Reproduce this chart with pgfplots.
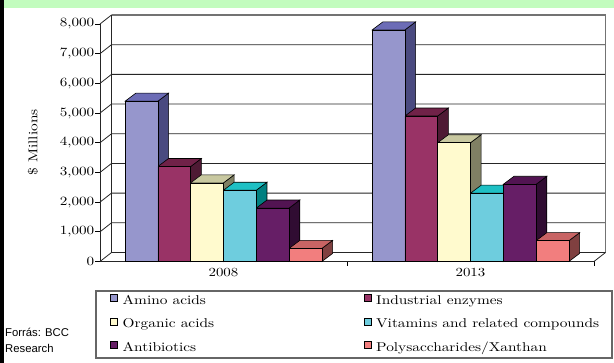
\documentclass[border=0pt]{standalone}
\usepackage{fontspec}
\setmainfont{lmroman10-regular.otf}[FakeStretch=1.2]
\newfontfamily\notefont{Liberation Sans}
\usepackage{pgfplots}
\usepackage{pgfplotstable}
\pgfplotsset{compat=1.18}

% front, top and side shades of each series
\definecolor{aminoF}{RGB}{150,150,204}
\definecolor{aminoT}{RGB}{108,108,182}
\definecolor{aminoS}{RGB}{74,74,128}
\definecolor{enzymesF}{RGB}{153,51,102}
\definecolor{enzymesT}{RGB}{112,34,72}
\definecolor{enzymesS}{RGB}{78,26,52}
\definecolor{organicF}{RGB}{255,250,206}
\definecolor{organicT}{RGB}{200,200,160}
\definecolor{organicS}{RGB}{128,128,100}
\definecolor{vitaminsF}{RGB}{110,205,222}
\definecolor{vitaminsT}{RGB}{30,192,196}
\definecolor{vitaminsS}{RGB}{0,128,128}
\definecolor{antibioticsF}{RGB}{102,30,102}
\definecolor{antibioticsT}{RGB}{82,20,82}
\definecolor{antibioticsS}{RGB}{48,12,50}
\definecolor{polysacchF}{RGB}{242,126,126}
\definecolor{polysacchT}{RGB}{200,100,100}
\definecolor{polysacchS}{RGB}{128,64,64}
\definecolor{bandgreen}{RGB}{194,252,190}

% market size, $ millions
\pgfplotstableread{
x    amino enzymes organic vitamins antibiotics polysacch
0.5  5400  3200    2650    2400     1800        440
1.5  7800  4900    4000    2300     2600        700
}\markets

\def\bw{0.1328}   % bar width (axis units)
\def\dxb{0.0433}  % bar depth, x
\def\dyb{270}     % bar depth, y
\def\dxw{0.0466}  % wall depth, x
\def\dyw{303}     % wall depth, y
\def\xback{2.0466}

\begin{document}
\begin{tikzpicture}
\useasboundingbox (0pt,0pt) rectangle (614pt,363pt);
\fill[white] (0pt,0pt) rectangle (614pt,363pt);
\fill[bandgreen] (0pt,355pt) rectangle (614pt,363pt);
\fill[black] (0pt,0pt) rectangle (3.5pt,363pt);

\begin{axis}[
  at={(100pt,101.5pt)}, anchor=south west,
  scale only axis, width=505.5pt, height=246.5pt,
  xmin=0, xmax=2.0466, ymin=0, ymax=8303,
  clip=false,
  axis x line*=bottom, axis y line*=left,
  axis line style={draw=none},
  tick align=outside, major tick length=4.5pt,
  ytick={0,1000,...,8000},
  ytick style={black, line width=0.7pt},
  scaled y ticks=false,
  /pgf/number format/1000 sep={,},
  /pgf/number format/assume math mode=true,
  yticklabel style={font=\fontsize{12.6}{14}\selectfont, inner xsep=1pt},
  xtick={0.5,1.5}, xticklabels={2008,2013},
  xtick style={draw=none},
  xticklabel style={font=\fontsize{12.4}{14}\selectfont, yshift=1pt},
  extra x ticks={1,2}, extra x tick labels={},
  extra x tick style={xtick style={draw=black, line width=0.7pt}},
  faceline/.style={draw=black, line width=0.6pt},
  wallline/.style={draw=black!85, line width=0.8pt},
  legend columns=2, legend cell align=left,
  legend image code/.code={\draw[#1, draw=black, line width=0.5pt] (0pt,0pt) rectangle (7pt,7pt);},
  legend style={
    at={(0.0198,-0.1302)}, anchor=north west, draw=none, fill=none, inner sep=0pt,
    font=\fontsize{12.8}{14}\selectfont,
    nodes={inner sep=0pt, text height=9pt, text depth=3pt},
    row sep=10.5pt,
    /tikz/every odd column/.append style={column sep=5pt},
  },
]

% left wall: tick diagonals running back into the back-wall grid lines
\foreach \v in {0,1000,...,8000}{
  \pgfmathsetmacro\vb{\v+\dyw}
  \edef\temp{\noexpand\addplot[forget plot, wallline] coordinates {(0,\v) (\dxw,\vb) (\xback,\vb)};}\temp
}
\addplot[forget plot, wallline] coordinates {(0,0) (0,8000)};
\addplot[forget plot, wallline] coordinates {(\dxw,\dyw) (\dxw,8303)};
\addplot[forget plot, wallline] coordinates {(0,0) (2,0) (\xback,\dyw)};
\addplot[forget plot, draw=black!55, line width=1.6pt] coordinates {(\dxw,8303) (\xback,8303) (\xback,\dyw)};

% right-hand side faces of the columns
\foreach \col/\k in {amino/0,enzymes/1,organic/2,vitamins/3,antibiotics/4,polysacch/5}{
  \foreach \r in {0,1}{
    \pgfplotstablegetelem{\r}{x}\of\markets \let\bxc\pgfplotsretval
    \pgfplotstablegetelem{\r}{\col}\of\markets \let\bval\pgfplotsretval
    \pgfmathsetmacro\bxr{\bxc+(\k-2)*\bw}
    \pgfmathsetmacro\bxs{\bxr+\dxb}
    \pgfmathsetmacro\bvt{\bval+\dyb}
    \edef\temp{\noexpand\addplot[forget plot, fill=\col S, faceline] coordinates {(\bxr,0) (\bxs,\dyb) (\bxs,\bvt) (\bxr,\bval)} -- cycle;}\temp
  }
}
% top faces
\foreach \col/\k in {amino/0,enzymes/1,organic/2,vitamins/3,antibiotics/4,polysacch/5}{
  \foreach \r in {0,1}{
    \pgfplotstablegetelem{\r}{x}\of\markets \let\bxc\pgfplotsretval
    \pgfplotstablegetelem{\r}{\col}\of\markets \let\bval\pgfplotsretval
    \pgfmathsetmacro\bxl{\bxc+(\k-3)*\bw}
    \pgfmathsetmacro\bxr{\bxl+\bw}
    \pgfmathsetmacro\bxls{\bxl+\dxb}
    \pgfmathsetmacro\bxrs{\bxr+\dxb}
    \pgfmathsetmacro\bvt{\bval+\dyb}
    \edef\temp{\noexpand\addplot[forget plot, fill=\col T, faceline] coordinates {(\bxl,\bval) (\bxr,\bval) (\bxrs,\bvt) (\bxls,\bvt)} -- cycle;}\temp
  }
}
% front faces
\addplot[forget plot, ybar, bar width=\bw, bar shift=-0.332,  fill=aminoF,       faceline] table[x=x, y=amino]{\markets};
\addplot[forget plot, ybar, bar width=\bw, bar shift=-0.1992, fill=enzymesF,     faceline] table[x=x, y=enzymes]{\markets};
\addplot[forget plot, ybar, bar width=\bw, bar shift=-0.0664, fill=organicF,     faceline] table[x=x, y=organic]{\markets};
\addplot[forget plot, ybar, bar width=\bw, bar shift=0.0664,  fill=vitaminsF,    faceline] table[x=x, y=vitamins]{\markets};
\addplot[forget plot, ybar, bar width=\bw, bar shift=0.1992,  fill=antibioticsF, faceline] table[x=x, y=antibiotics]{\markets};
\addplot[forget plot, ybar, bar width=\bw, bar shift=0.332,   fill=polysacchF,   faceline] table[x=x, y=polysacch]{\markets};

\addlegendimage{fill=aminoF}
\addlegendentry{\makebox[241pt][l]{Amino acids}}
\addlegendimage{fill=enzymesF}
\addlegendentry{Industrial enzymes}
\addlegendimage{fill=organicF}
\addlegendentry{\makebox[241pt][l]{Organic acids}}
\addlegendimage{fill=vitaminsF}
\addlegendentry{Vitamins and related compounds}
\addlegendimage{fill=antibioticsF}
\addlegendentry{\makebox[241pt][l]{Antibiotics}}
\addlegendimage{fill=polysacchF}
\addlegendentry{Polysaccharides/Xanthan}
\end{axis}

\draw[black!60, line width=1.3pt] (96pt,5pt) rectangle (612pt,72pt);
\node[rotate=90, font=\fontsize{12.8}{14}\selectfont] at (33pt,220.5pt) {\$ Millions};
\node[anchor=base west, font=\notefont\fontsize{11.3}{13}\selectfont, inner sep=0pt] at (5pt,26pt) {Forrás: BCC};
\node[anchor=base west, font=\notefont\fontsize{11.3}{13}\selectfont, inner sep=0pt] at (5pt,10pt) {Research};
\end{tikzpicture}
\end{document}
